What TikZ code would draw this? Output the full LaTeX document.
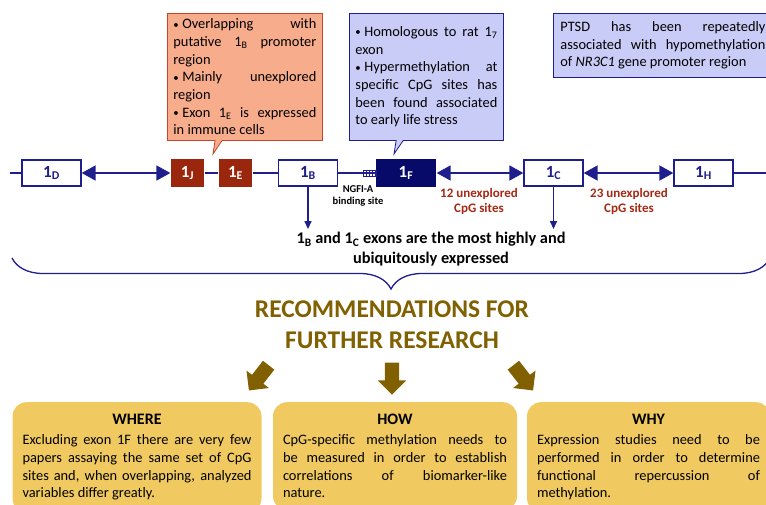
\documentclass[tikz,border=0pt]{standalone}
\usepackage{fontspec}
\setmainfont{Carlito}
\usepackage{tikz}
\usetikzlibrary{arrows.meta, positioning, shapes.arrows, shapes.callouts}
\usetikzlibrary{patterns, decorations.pathreplacing}

\definecolor{navy}{RGB}{30,30,140}
\definecolor{darknavy}{RGB}{8,10,105}
\definecolor{exred}{RGB}{155,38,14}
\definecolor{cpgred}{RGB}{165,40,20}
\definecolor{salmon}{RGB}{247,172,140}
\definecolor{salmonline}{RGB}{195,70,40}
\definecolor{lavender}{RGB}{201,204,246}
\definecolor{gold}{RGB}{240,202,96}
\definecolor{olive}{RGB}{128,96,0}

\setlength{\parindent}{0pt}
\tolerance=10000
\hyphenpenalty=10000
\newcommand{\exn}[1]{1\textsubscript{#1}}
\newcommand{\bul}{\raisebox{0.5pt}{\scalebox{0.75}{\textbullet}}\hspace{3.5pt}}

\begin{document}
\begin{tikzpicture}[
        x=1pt, y=-1pt,
        ex/.style={rectangle, draw=navy, line width=1.3pt, fill=white, inner sep=0pt,
            minimum width=59pt, minimum height=26pt, text=navy,
            font=\fontsize{17}{19}\selectfont\bfseries},
        rex/.style={ex, draw=none, fill=exred, text=white, minimum width=33pt, minimum height=28pt},
        fex/.style={ex, draw=none, fill=darknavy, text=white, minimum width=60pt, minimum height=28pt},
        ln/.style={draw=navy, line width=1.8pt},
        dbl/.style={ln, {Triangle[length=14pt,width=15pt]}-{Triangle[length=14pt,width=15pt]}},
        dn/.style={draw=navy, line width=1.4pt, -{Triangle[length=8pt,width=7pt]}},
        site/.style={rectangle, draw=navy, line width=0.5pt, pattern=vertical lines,
            pattern color=navy, minimum width=13pt, minimum height=6pt, inner sep=0pt},
        cpg/.style={align=center, text=cpgred, font=\fontsize{13}{15}\selectfont\bfseries},
        note/.style={align=justify, inner xsep=6pt, line width=0.8pt, anchor=north west,
            font=\fontsize{14.4}{17.7}\selectfont},
        ocall/.style={note, rectangle callout, fill=salmon, draw=salmonline,
            text width=143pt, minimum height=127pt},
        bcall/.style={note, rectangle callout, fill=lavender, draw=navy,
            text width=142pt, minimum height=127pt},
        pbox/.style={note, rectangle, fill=lavender, draw=navy, text width=205pt,
            inner xsep=7pt, inner ysep=8pt},
        rec/.style={rectangle, rounded corners=14pt, fill=gold, anchor=north, align=justify,
            inner xsep=10pt, inner ysep=12pt, font=\fontsize{14.4}{17.7}\selectfont},
        bigarr/.style={single arrow, fill=olive, inner xsep=0pt, inner ysep=7pt,
            minimum height=32pt, single arrow head extend=7pt, single arrow tip angle=90,
            single arrow head indent=0pt}
    ]
    \useasboundingbox (0,0) rectangle (766,504);

    % exons on the gene
    \node[ex]  (e1D) at (51.5,173)  {\exn{D}};
    \node[rex] (e1J) at (187.5,173) {\exn{J}};
    \node[rex] (e1E) at (235.5,173) {\exn{E}};
    \node[ex]  (e1B) at (308,173)   {\exn{B}};
    \node[fex] (e1F) at (406,173)   {\exn{F}};
    \node[ex]  (e1C) at (553.5,173) {\exn{C}};
    \node[ex]  (e1H) at (703.5,173) {\exn{H}};
    \coordinate (lend) at (10,173);
    \coordinate (rend) at (766,173);

    \draw[ln] (lend) -- (e1D.west);
    \draw[dbl] (e1D.east) -- (e1J.west);
    \draw[ln] (e1J.east) -- (e1E.west);
    \draw[ln] (e1E.east) -- (e1B.west);
    \draw[ln] (e1B.east) -- (e1F.west);
    \draw[dbl] (e1F.east) -- (e1C.west);
    \draw[dbl] (e1C.east) -- (e1H.west);
    \draw[ln] (e1H.east) -- (rend);

    \node[site] (ngfi) at (369.5,173.5) {};
    \node[align=center, font=\fontsize{10.5}{12.5}\selectfont\bfseries] (ngfilbl) at (358,196)
        {NGFI-A\\binding site};
    \node[cpg] (cpg12) at (479,201) {12 unexplored\\CpG sites};
    \node[cpg] (cpg23) at (629,201) {23 unexplored\\CpG sites};

    % most expressed exons
    \node[align=center, inner sep=3pt, font=\fontsize{16.3}{19.5}\selectfont\bfseries] (expr) at (431,249)
        {\exn{B} and \exn{C} exons are the most highly and\\ubiquitously expressed};
    \draw[dn] (e1B.south) -- (e1B.south |- expr.north);
    \draw[dn] (e1C.south) -- (e1C.south |- expr.north);

    % notes
    \node[ocall, callout absolute pointer={(213,154)}] (noteJ) at (167,13)
        {\bul Overlapping with\linebreak putative \exn{B} promoter\linebreak region\par
         \bul Mainly unexplored\linebreak region\par
         \bul Exon \exn{E} is expressed\linebreak in immune cells};
    \node[bcall, callout absolute pointer={(394,154)}] (noteF) at (349,13)
        {\bul Homologous to rat \exn{7}\linebreak exon\par
         \bul Hypermethylation at\linebreak specific CpG sites has\linebreak
         been found associated\linebreak to early life stress};
    \node[pbox] (ptsd) at (553,13)
        {PTSD has been repeatedly\linebreak associated with hypomethylation\linebreak
         of \textit{NR3C1} gene promoter region};

    \draw[draw=navy, line width=1.3pt, decorate, decoration={brace, mirror, amplitude=31pt}]
        (12,258) -- (770,258);

    % recommendations
    \node[align=center, text=olive, font=\fontsize{25.5}{31}\selectfont\bfseries] (recs) at (392,325)
        {RECOMMENDATIONS FOR\\FURTHER RESEARCH};
    \node[bigarr, rotate=-128] (arL) at (261,375) {};
    \node[bigarr, rotate=-90]  (arM) at (392,375) {};
    \node[bigarr, rotate=-52]  (arR) at (521,375) {};

    \node[rec, text width=229pt] (where) at (137,402)
        {\makebox[\linewidth]{\fontsize{16}{18}\selectfont\bfseries WHERE}\par\vspace{2.5pt}
         Excluding exon 1F there are very few\linebreak papers assaying the same set of CpG\linebreak
         sites and, when overlapping, analyzed\linebreak variables differ greatly.};
    \node[rec, text width=224pt] (how) at (395,402)
        {\makebox[\linewidth]{\fontsize{16}{18}\selectfont\bfseries HOW}\par\vspace{2.5pt}
         CpG-specific methylation needs to\linebreak be measured in order to establish\linebreak
         correlations of biomarker-like\linebreak nature.};
    \node[rec, text width=223pt] (why) at (648.5,402)
        {\makebox[\linewidth]{\fontsize{16}{18}\selectfont\bfseries WHY}\par\vspace{2.5pt}
         Expression studies need to be\linebreak performed in order to determine\linebreak
         functional repercussion of\linebreak methylation.};
\end{tikzpicture}
\end{document}
